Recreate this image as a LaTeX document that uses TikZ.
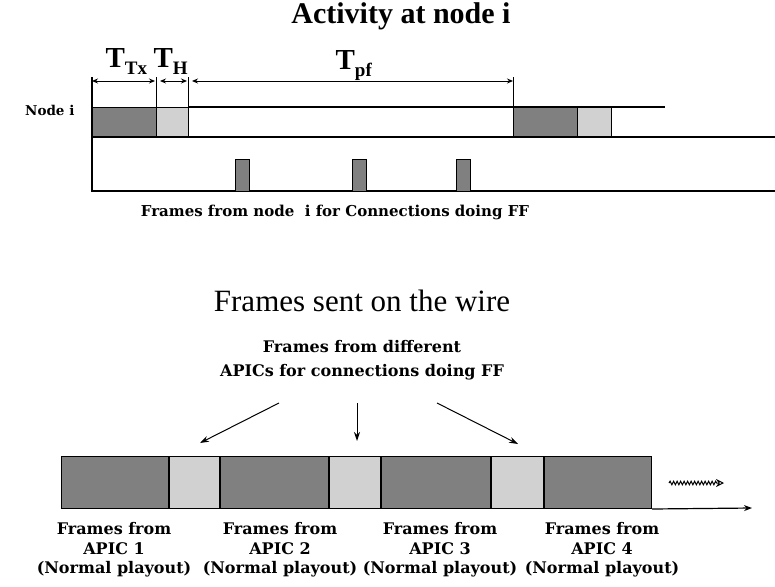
\documentclass[tikz,border=0pt]{standalone}
\usepackage{fontspec}
\setmainfont{Liberation Serif}
\newfontfamily\labfont{DejaVu Serif}
\usetikzlibrary{arrows.meta,decorations.pathmorphing}

\newcommand{\Tsub}[1]{T\raisebox{-7pt}{\fontsize{19}{19}\selectfont #1}}

\begin{document}
\begin{tikzpicture}[x=1pt,y=-1pt,line width=1.2pt,
  dark/.style={draw, line width=1pt, fill=black!50},
  light/.style={draw, line width=1pt, fill=black!18},
  seg/.style={inner sep=0pt, anchor=north west, minimum height=52pt},
  lab/.style={font=\labfont\bfseries\fontsize{16}{19.5}\selectfont, align=center, inner sep=0pt},
  dim/.style={{Stealth[length=6pt,width=5pt]}-{Stealth[length=6pt,width=5pt]}, line width=0.9pt},
  tl/.style={font=\bfseries\fontsize{29}{30}\selectfont, inner sep=0pt, anchor=base west}]
  \useasboundingbox (0,0) rectangle (775,586);

  % Activity at node i
  \node[font=\bfseries\fontsize{30}{32}\selectfont, anchor=base] (act) at (401,24) {Activity at node i};
  \node[lab, font=\labfont\bfseries\fontsize{13.5}{15}\selectfont, anchor=base east] (nodei) at (75,115) {Node i};
  \node[tl] (ttx) at (105,67) {\Tsub{Tx}};
  \node[tl] (th) at (153,67) {\Tsub{H}};
  \node[tl] (tpf) at (335,69) {\Tsub{pf}};
  \coordinate (a0) at (92,81); \coordinate (a1) at (156,81);
  \coordinate (a2) at (188,81); \coordinate (a3) at (513,81);
  \draw[dim, shorten >=1pt] (a0) -- (a1);
  \draw[dim, shorten <=4pt, shorten >=1pt] (a1) -- (a2);
  \draw[dim, shorten <=4pt] (a2) -- (a3);
  \draw[line width=1pt] (156,77) -- (156,107);
  \draw[line width=1pt] (188,77) -- (188,137);
  \draw[line width=1pt] (513,77) -- (513,137);
  \draw[dark] (92,107) rectangle (156,137);
  \draw[light] (156,107) rectangle (188,137);
  \draw[dark] (513,107) rectangle (577,137);
  \draw[light] (577,107) rectangle (611,137);
  \draw (188,107) -- (665,107);
  \draw (92,137) -- (775,137);
  \draw (92,77) -- (92,191) -- (775,191);
  \draw[dark] (235,159) rectangle (249,191);
  \draw[dark] (352,159) rectangle (366,191);
  \draw[dark] (456,159) rectangle (470,191);
  \node[lab, font=\labfont\bfseries\fontsize{15}{18}\selectfont, anchor=base] (ffnode) at (335,216)
    {Frames from node~ i for Connections doing FF};

  % Frames sent on the wire
  \node[font=\fontsize{31}{33}\selectfont, anchor=base] (wire) at (362,311) {Frames sent on the wire};
  \node[lab, font=\labfont\bfseries\fontsize{16}{24}\selectfont, anchor=north] (diff) at (362,340)
    {Frames from different\\APICs for connections doing FF};
  \node[seg, dark, minimum width=107pt] (d1) at (61,456) {};
  \node[seg, light, minimum width=50pt] (l1) at (d1.north east) {};
  \node[seg, dark, minimum width=108pt] (d2) at (l1.north east) {};
  \node[seg, light, minimum width=51pt] (l2) at (d2.north east) {};
  \node[seg, dark, minimum width=109pt] (d3) at (l2.north east) {};
  \node[seg, light, minimum width=52pt] (l3) at (d3.north east) {};
  \node[seg, dark, minimum width=107pt] (d4) at (l3.north east) {};
  \coordinate (s1) at (279,403); \coordinate (e1) at (200,443);
  \coordinate (s2) at (357,403); \coordinate (e2) at (357,441);
  \coordinate (s3) at (437,403); \coordinate (e3) at (518,444);
  \draw[line width=1pt, -{Stealth[length=9pt,width=6pt]}] (s1) -- (e1);
  \draw[line width=1pt, -{Stealth[length=9pt,width=6pt]}] (s2) -- (e2);
  \draw[line width=1pt, -{Stealth[length=9pt,width=6pt]}] (s3) -- (e3);
  \draw[-{Stealth[length=8pt,width=6pt]}] (d4.south east) -- (752,508);
  \draw[line width=1pt, decorate, decoration={snake, amplitude=1.8pt, segment length=3.5pt, post length=7pt},
    -{Stealth[open, length=8pt, width=8pt]}] (669,483) -- (724,483);
  \node[lab, anchor=north] (p1) at (114,522) {Frames from\\APIC 1\\(Normal playout)};
  \node[lab, anchor=north] (p2) at (280,522) {Frames from\\APIC 2\\(Normal playout)};
  \node[lab, anchor=north] (p3) at (440,522) {Frames from\\APIC 3\\(Normal playout)};
  \node[lab, anchor=north] (p4) at (602,522) {Frames from\\APIC 4\\(Normal playout)};
\end{tikzpicture}
\end{document}
